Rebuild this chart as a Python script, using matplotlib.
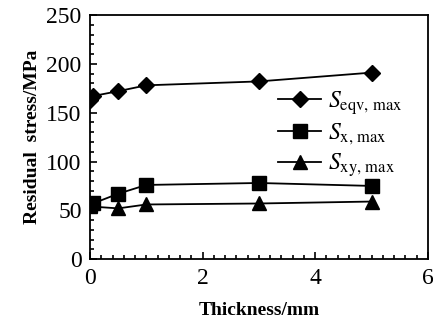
import matplotlib
matplotlib.use("Agg")
import matplotlib.pyplot as plt
from matplotlib.ticker import MultipleLocator

plt.rcParams['font.family'] = ['Liberation Serif', 'DejaVu Serif']
plt.rcParams['mathtext.fontset'] = 'stix'

thick_eqv = [0, 0.05, 0.5, 1, 3, 5]
s_eqv = [163, 167, 172, 178, 182, 191]
thick_x = [0, 0.05, 0.5, 1, 3, 5]
s_x = [55, 57, 67, 76, 78, 75]
thick_xy = [0, 0.5, 1, 3, 5]
s_xy = [54, 52, 56, 57, 59]

fig = plt.figure(figsize=(4.33, 3.26), dpi=100)
ax = fig.add_axes([0.208, 0.205, 0.78, 0.749])

ax.plot(thick_eqv, s_eqv, color='black', lw=1.3, marker='D', ms=8, label=r'$S_{\rm eqv,\,max}$')
ax.plot(thick_x, s_x, color='black', lw=1.3, marker='s', ms=10, label=r'$S_{\rm x,\,max}$')
ax.plot(thick_xy, s_xy, color='black', lw=1.3, marker='^', ms=10, label=r'$S_{\rm xy,\,max}$')

ax.set_xlim(0, 6)
ax.set_ylim(0, 250)
ax.xaxis.set_major_locator(MultipleLocator(2))
ax.xaxis.set_minor_locator(MultipleLocator(0.2))
ax.yaxis.set_major_locator(MultipleLocator(50))
ax.yaxis.set_minor_locator(MultipleLocator(10))
ax.tick_params(which='both', direction='in', top=False, right=False, labelsize=17, width=1.2)
ax.tick_params(which='major', length=5, pad=6)
ax.tick_params(which='minor', length=3)
for sp in ax.spines.values():
    sp.set_linewidth(1.3)

ax.set_xlabel('Thickness/mm', fontsize=14, fontweight='bold', labelpad=10)
ax.set_ylabel('Residual  stress/MPa', fontsize=14, fontweight='bold', labelpad=4)

leg = ax.legend(loc='upper left', bbox_to_anchor=(0.495, 0.785), frameon=False,
                fontsize=17, handlelength=1.8, labelspacing=0.2, handletextpad=0.3)

fig.savefig('out.png', dpi=100)
